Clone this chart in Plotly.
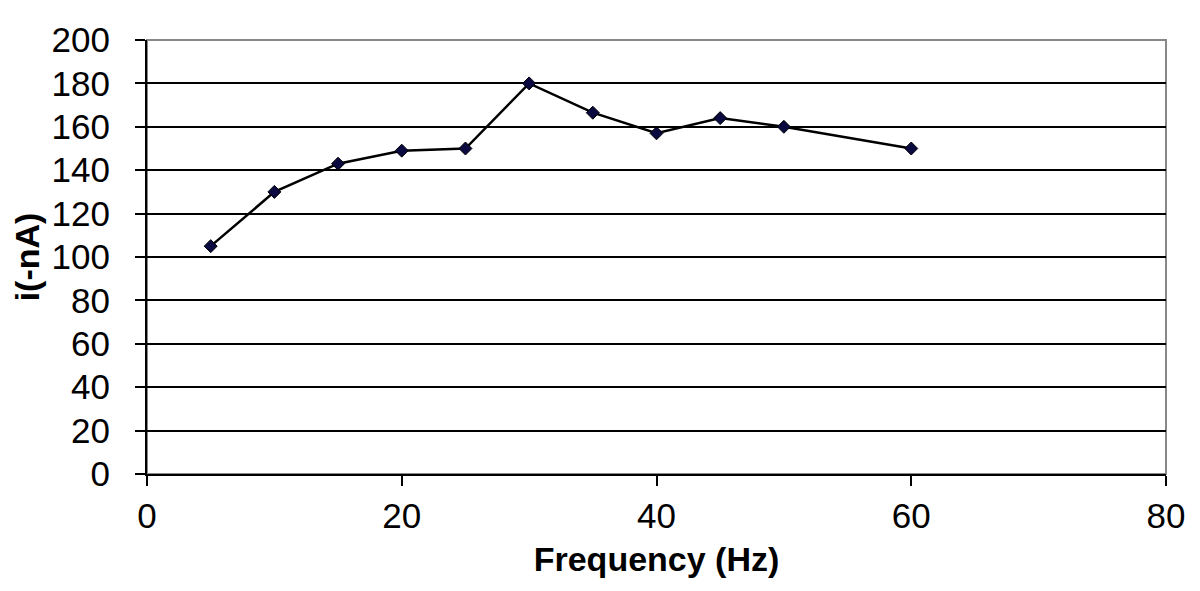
import plotly.graph_objects as go

freq = [5, 10, 15, 20, 25, 30, 35, 40, 45, 50, 60]
current = [105, 130, 143, 149, 150, 180, 166.5, 157, 164, 160, 150]

x_ticks = [0, 20, 40, 60, 80]
y_ticks = [0, 20, 40, 60, 80, 100, 120, 140, 160, 180, 200]

fig = go.Figure()
fig.add_trace(go.Scatter(
    x=freq, y=current, mode="lines+markers",
    line=dict(color="black", width=2.5),
    marker=dict(symbol="diamond", size=10, color="#0a0a40",
                line=dict(color="black", width=1)),
    showlegend=False,
))

font = "Liberation Sans, Arial, sans-serif"
fig.update_layout(
    width=1200, height=591,
    margin=dict(l=134, r=42, t=32, b=125),
    paper_bgcolor="white", plot_bgcolor="white",
    font=dict(family=font, color="black", size=35),
    shapes=[dict(type="rect", xref="paper", yref="paper", x0=0, x1=1, y0=0, y1=1,
                 line=dict(color="#888888", width=2), layer="below")],
)
fig.update_xaxes(
    range=[0, 80], tickvals=x_ticks, showgrid=False, zeroline=False,
    showline=True, linecolor="black", linewidth=2, mirror=False,
    ticks="outside", ticklen=10, tickwidth=2, tickcolor="black",
    tickfont=dict(size=35), ticklabelstandoff=0,
    title=dict(text="<b>Frequency (Hz)</b>", font=dict(size=34), standoff=13),
)
fig.update_yaxes(
    range=[0, 200], tickvals=y_ticks, showgrid=True, gridcolor="black", gridwidth=2,
    zeroline=False, showline=True, linecolor="black", linewidth=2,
    ticks="outside", ticklen=10, tickwidth=2, tickcolor="black",
    tickfont=dict(size=35), ticklabelstandoff=18,
    title=dict(text="<b>i(-nA)</b>", font=dict(size=34), standoff=8),
)
fig.write_html("out.html")
